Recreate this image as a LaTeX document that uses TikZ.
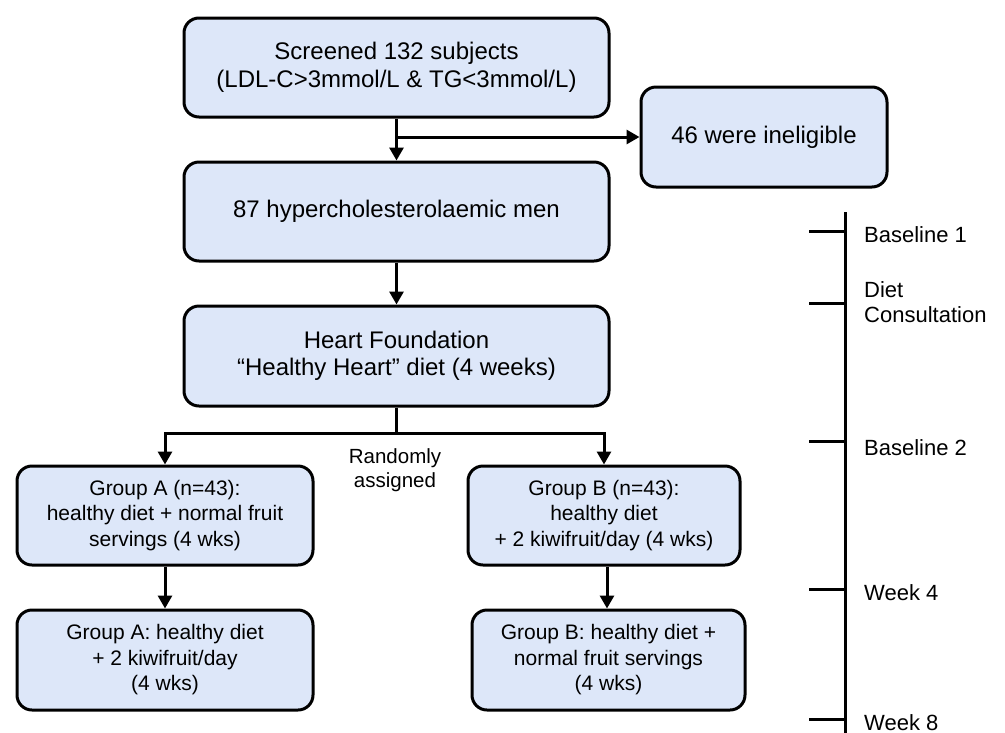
\documentclass[tikz,border=0pt]{standalone}
\usepackage{fontspec}
\setmainfont{Liberation Sans}
\usetikzlibrary{arrows.meta,calc}
\definecolor{boxfill}{HTML}{DDE7F9}
\tikzset{
  box/.style={draw=black, line width=3pt, fill=boxfill, rounded corners=15pt, align=center, inner sep=2pt},
  bigbox/.style={box, font=\fontsize{24}{27.5}\selectfont},
  grpbox/.style={box, font=\fontsize{21}{25.5}\selectfont},
  arr/.style={line width=3pt, -{Triangle[width=14pt,length=13pt]}},
  ln/.style={line width=3pt},
  tl/.style={line width=3pt},
  tlabel/.style={anchor=west, align=left, inner sep=0pt, font=\fontsize{22}{25}\selectfont}
}
\begin{document}
\begin{tikzpicture}[x=1pt,y=-1pt]
\useasboundingbox (0,0) rectangle (1005,732);
\clip (0,0) rectangle (1005,732);
\node[bigbox, minimum width=425pt, minimum height=99pt] (b1) at (396.5,67.5) {Screened 132 subjects\\(LDL-C>3mmol/L \& TG<3mmol/L)};
\node[bigbox, minimum width=246pt, minimum height=100pt] (inel) at (764,137) {46 were ineligible};
\node[bigbox, minimum width=425pt, minimum height=99pt] (b2) at (396.5,211.5) {87 hypercholesterolaemic men};
\node[bigbox, minimum width=425pt, minimum height=100pt] (b3) at (396.5,356) {Heart Foundation\\“Healthy Heart” diet (4 weeks)};
\node[grpbox, minimum width=296pt, minimum height=99pt] (a1) at (165,515.5) {Group A (n=43):\\healthy diet + normal fruit\\servings (4 wks)};
\node[grpbox, minimum width=296pt, minimum height=100pt] (a2) at (165,660) {Group A: healthy diet\\+ 2 kiwifruit/day\\(4 wks)};
\node[grpbox, minimum width=272pt, minimum height=99pt] (c1) at (604,515.5) {Group B (n=43):\\healthy diet\\+ 2 kiwifruit/day (4 wks)};
\node[grpbox, minimum width=273pt, minimum height=100pt] (c2) at (608.5,660) {Group B: healthy diet +\\normal fruit servings\\(4 wks)};
\node[align=center, font=\fontsize{20.5}{24}\selectfont, inner sep=0pt] (rand) at (395,470) {Randomly\\assigned};

\coordinate (split) at (396.5,433);
\draw[arr] (b1.south) -- (b2.north);
\draw[arr] (b1.south |- inel.west) -- (inel.west);
\draw[arr] (b2.south) -- (b3.north);
\draw[ln] (b3.south) -- (split);
\draw[arr] (split) -| (a1.north);
\draw[arr] (split) -| (c1.north);
\draw[arr] (a1.south) -- (a2.north);
\coordinate (cmid) at (607,0);
\draw[arr] (cmid |- c1.south) -- (cmid |- c2.north);

% timeline
\coordinate (ttop) at (845,212);
\coordinate (tbot) at (845,740);
\draw[tl] (ttop) -- (tbot);
\foreach \y/\n in {231/t1,303/t2,441/t3,589/t4,719/t5}{
  \coordinate (\n) at (845,\y);
  \draw[tl] (809,\y) -- (\n);
}
\node[tlabel] (l1) at (864,235) {Baseline 1};
\node[tlabel] (l2) at (864,302) {Diet\\Consultation};
\node[tlabel] (l3) at (864,448) {Baseline 2};
\node[tlabel] (l4) at (864,593) {Week 4};
\node[tlabel] (l5) at (864,723) {Week 8};
\end{tikzpicture}
\end{document}
